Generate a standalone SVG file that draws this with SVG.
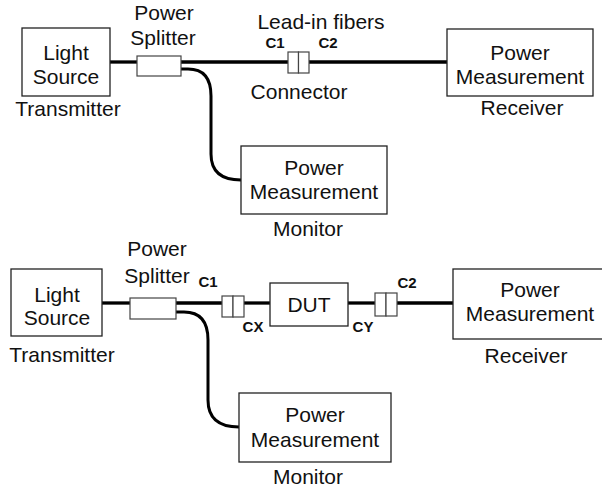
<svg xmlns="http://www.w3.org/2000/svg" width="602" height="489" viewBox="0 0 602 489">
  <style>
    .box { fill: #fff; stroke: #222; stroke-width: 1.3; }
    .small { fill: #fff; stroke: #444; stroke-width: 1.2; }
    .fiber { fill: none; stroke: #000; stroke-width: 3.3; }
    .branch { fill: none; stroke: #000; stroke-width: 3; }
    text { font-family: "Liberation Sans", Arial, sans-serif; font-size: 21px; fill: #111; text-anchor: middle; }
    .lbl { font-size: 15px; font-weight: bold; }
  </style>
  <rect width="602" height="489" fill="#fff"/>

  <!-- fibers -->
  <g id="connectors">
    <!-- upper setup -->
    <line class="fiber" x1="110" y1="62" x2="137" y2="62"/>
    <line class="fiber" x1="181" y1="62" x2="288" y2="62"/>
    <line class="fiber" x1="309" y1="62" x2="447" y2="62"/>
    <path class="branch" d="M181,69 H188 Q211,69 211,96 V154 Q211,180 241,180"/>
    <!-- lower setup -->
    <line class="fiber" x1="102" y1="303" x2="130" y2="303"/>
    <line class="fiber" x1="176" y1="303" x2="222" y2="303"/>
    <line class="fiber" x1="244" y1="303" x2="270" y2="303"/>
    <line class="fiber" x1="348" y1="303" x2="375" y2="303"/>
    <line class="fiber" x1="397" y1="303" x2="453" y2="303"/>
    <path class="branch" d="M176,312 H184 Q208,312 208,340 V400 Q208,427 239,427"/>
  </g>

  <!-- upper setup nodes -->
  <g id="source1">
    <rect class="box" x="22" y="28" width="88" height="68"/>
    <text x="66" y="60">Light</text>
    <text x="66" y="84">Source</text>
    <text x="68" y="116">Transmitter</text>
  </g>
  <g id="splitter1">
    <rect class="small" x="137" y="56" width="44" height="20"/>
    <text x="164" y="20">Power</text>
    <text x="163" y="45">Splitter</text>
  </g>
  <g id="connector1">
    <rect class="small" x="288" y="52" width="10.5" height="21"/>
    <rect class="small" x="298.5" y="52" width="10.5" height="21"/>
    <text x="321" y="29">Lead-in fibers</text>
    <text class="lbl" x="275" y="48">C1</text>
    <text class="lbl" x="328" y="48">C2</text>
    <text x="299" y="99">Connector</text>
  </g>
  <g id="receiver1">
    <rect class="box" x="447" y="29" width="146" height="67"/>
    <text x="520" y="60">Power</text>
    <text x="520" y="84">Measurement</text>
    <text x="522" y="115">Receiver</text>
  </g>
  <g id="monitor1">
    <rect class="box" x="241" y="146" width="146" height="68"/>
    <text x="314" y="175">Power</text>
    <text x="314" y="199">Measurement</text>
    <text x="308" y="236">Monitor</text>
  </g>

  <!-- lower setup nodes -->
  <g id="source2">
    <rect class="box" x="11" y="269" width="91" height="67"/>
    <text x="57" y="302">Light</text>
    <text x="57" y="325">Source</text>
    <text x="62" y="362">Transmitter</text>
  </g>
  <g id="splitter2">
    <rect class="small" x="130" y="298" width="46" height="21"/>
    <text x="157" y="256">Power</text>
    <text x="157" y="283">Splitter</text>
  </g>
  <g id="connector2">
    <rect class="small" x="222" y="296" width="11" height="21"/>
    <rect class="small" x="233" y="296" width="11" height="21"/>
    <text class="lbl" x="208" y="287">C1</text>
    <text class="lbl" x="253" y="332">CX</text>
  </g>
  <g id="dut">
    <rect class="box" x="270" y="283" width="78" height="43"/>
    <text x="309" y="312">DUT</text>
  </g>
  <g id="connector3">
    <rect class="small" x="375" y="293" width="11" height="23"/>
    <rect class="small" x="386" y="293" width="11" height="23"/>
    <text class="lbl" x="363" y="332">CY</text>
    <text class="lbl" x="407" y="288">C2</text>
  </g>
  <g id="receiver2">
    <rect class="box" x="453" y="269" width="160" height="70"/>
    <text x="530" y="297">Power</text>
    <text x="530" y="321">Measurement</text>
    <text x="526" y="363">Receiver</text>
  </g>
  <g id="monitor2">
    <rect class="box" x="239" y="393" width="152" height="69"/>
    <text x="315" y="422">Power</text>
    <text x="315" y="447">Measurement</text>
    <text x="308" y="484">Monitor</text>
  </g>
</svg>
